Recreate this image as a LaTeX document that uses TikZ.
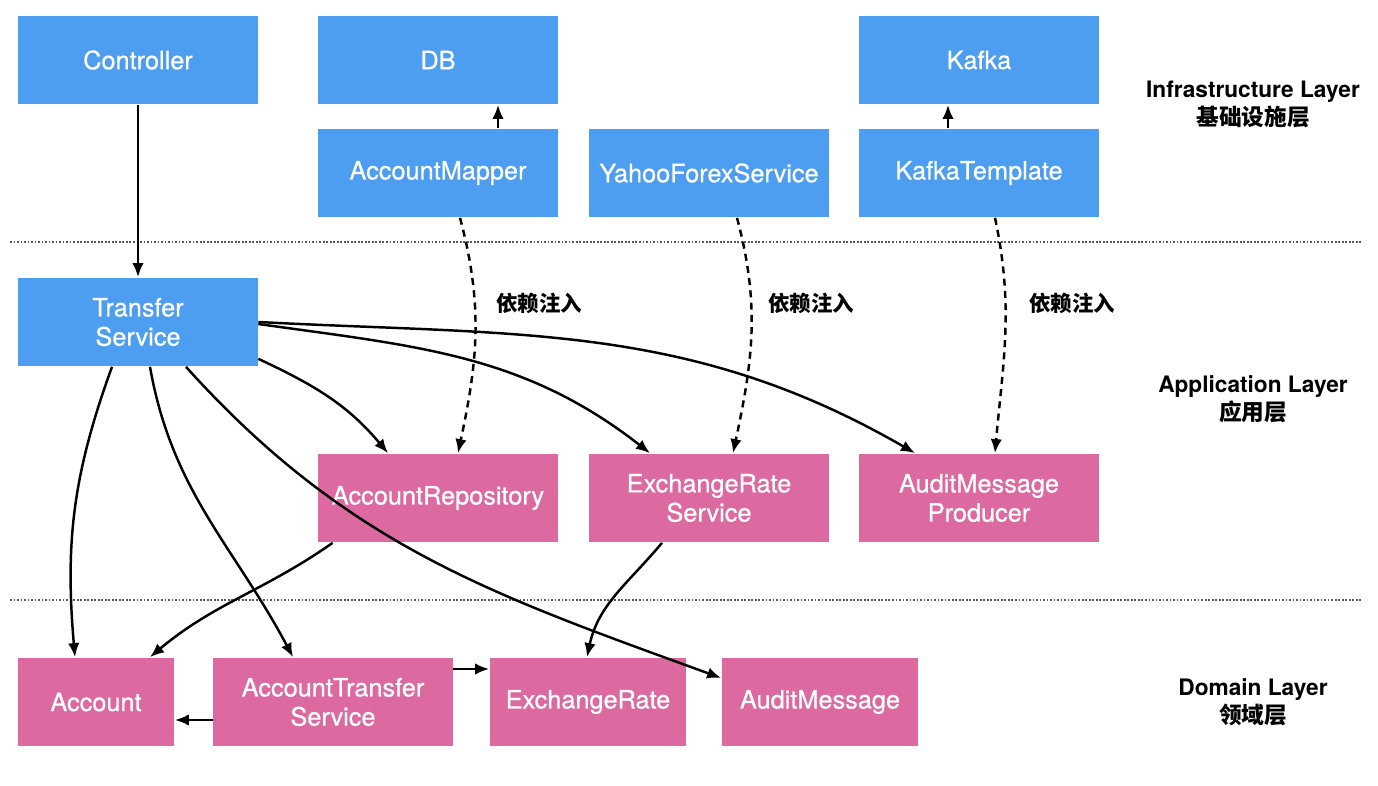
\documentclass[tikz,border=0pt]{standalone}
\usepackage{fontspec}
\setmainfont{TeX Gyre Heros}
\newfontfamily\cjk{Noto Sans CJK SC}
\newfontfamily\boxfont{TeX Gyre Heros}[FakeBold=0.6]
\usetikzlibrary{arrows.meta}
\definecolor{infblue}{RGB}{77,158,240}
\definecolor{dompink}{RGB}{220,106,160}
\tikzset{
  svc/.style={minimum width=4.8cm,minimum height=1.78cm,inner sep=0pt,text=white,align=center,font=\boxfont\fontsize{14.4}{16.6}\selectfont},
  inf/.style={svc,fill=infblue},
  dom/.style={svc,fill=dompink},
  arr/.style={-{Latex[length=8pt,width=6.5pt]},line width=1.4pt},
  inject/.style={arr,dash pattern=on 4pt off 3pt},
  sep/.style={densely dotted,line width=1pt,black!65},
  layername/.style={align=center,font=\bfseries\fontsize{12.9}{15.9}\selectfont},
  injlabel/.style={anchor=west,font=\cjk\bfseries\fontsize{12.2}{14}\selectfont}
}
\begin{document}
\begin{tikzpicture}[x=0.02cm,y=-0.02cm]
  \useasboundingbox (0,0) rectangle (1378,786);
  \draw[sep] (10,242) -- (1362,242);
  \draw[sep] (10,600) -- (1362,600);

  \node[inf] (ctrl) at (138,60) {Controller};
  \node[inf] (db) at (438,60) {DB};
  \node[inf] (kf) at (979,60) {Kafka};
  \node[inf] (am) at (438,173) {AccountMapper};
  \node[inf] (ys) at (709,173) {YahooForexService};
  \node[inf] (kt) at (979,173) {KafkaTemplate};
  \node[inf] (ts) at (138,322) {Transfer\\Service};
  \node[dom] (ar) at (438,498) {AccountRepository};
  \node[dom] (ers) at (709,498) {ExchangeRate\\Service};
  \node[dom] (amp) at (979,498) {AuditMessage\\Producer};
  \node[dom,minimum width=3.14cm] (acc) at (96,702) {Account};
  \node[dom] (ats) at (333,702) {AccountTransfer\\Service};
  \node[dom,minimum width=3.94cm] (er) at (588,702) {ExchangeRate};
  \node[dom,minimum width=3.94cm] (aud) at (820,702) {AuditMessage};

  \node[layername] (l1) at (1253,104) {Infrastructure Layer\\{\cjk 基础设施层}};
  \node[layername] (l2) at (1253,399) {Application Layer\\{\cjk 应用层}};
  \node[layername] (l3) at (1253,702) {Domain Layer\\{\cjk 领域层}};

  \draw[arr] (ctrl) -- (ts);
  \draw[arr] ([xshift=1.2cm]am.north) -- ([xshift=1.2cm]db.south);
  \draw[arr] ([xshift=-0.62cm]kt.north) -- ([xshift=-0.62cm]kf.south);

  \draw[inject] ([xshift=0.44cm]am.south) to[out=-75,in=78] ([xshift=0.4cm]ar.north);
  \draw[inject] ([xshift=0.56cm]ys.south) to[out=-75,in=78] ([xshift=0.48cm]ers.north);
  \draw[inject] ([xshift=0.32cm]kt.south) to[out=-78,in=85] ([xshift=0.32cm]amp.north);
  \node[injlabel] (j1) at (490,303) {依赖注入};
  \node[injlabel] (j2) at (762,303) {依赖注入};
  \node[injlabel] (j3) at (1023,303) {依赖注入};

  \draw[arr] (ts.east) to[out=-3,in=150] ([xshift=-1.28cm]amp.north);
  \draw[arr] ([yshift=-0.04cm]ts.east) to[out=-8,in=142] ([xshift=-1.18cm]ers.north);
  \draw[arr] ([yshift=0.16cm]ts.south east) to[out=-25,in=130] ([xshift=-1cm]ar.north);
  \draw[arr] ([xshift=-0.52cm]ts.south) to[out=-110,in=95] ([xshift=-0.42cm]acc.north);
  \draw[arr] ([xshift=0.24cm]ts.south) to[out=-80,in=118] ([xshift=-0.8cm]ats.north);
  \draw[arr] ([xshift=0.96cm]ts.south) to[out=-48,in=160] ([yshift=0.48cm]aud.west);
  \draw[arr] ([xshift=0.3cm]ar.south west) to[out=-145,in=40] ([xshift=1.08cm]acc.north);
  \draw[arr] ([xshift=-0.94cm]ers.south) to[out=-130,in=78] ([xshift=-0.02cm]er.north);
  \draw[arr] ([yshift=0.66cm]ats.east) -- ([yshift=0.66cm]er.west);
  \draw[arr] ([yshift=-0.36cm]ats.west) -- ([yshift=-0.36cm]acc.east);
\end{tikzpicture}
\end{document}
